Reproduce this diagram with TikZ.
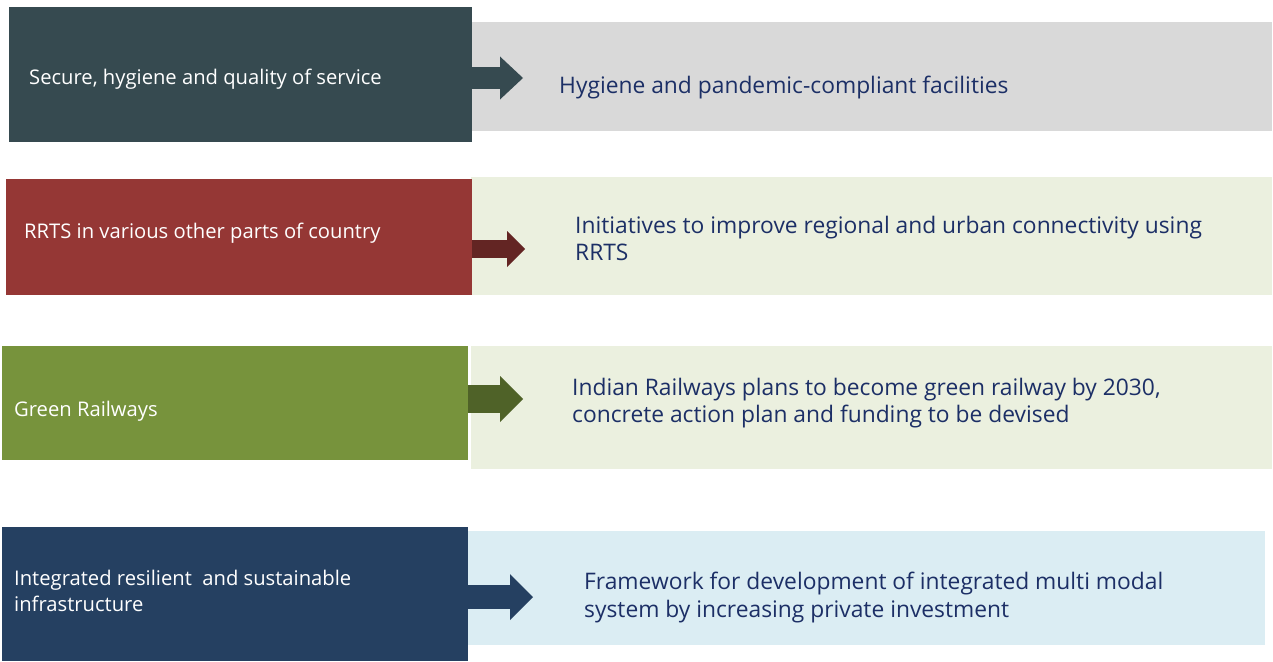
\documentclass[tikz,border=0pt]{standalone}
\usepackage{fontspec}
\setmainfont{Open Sans}
\usetikzlibrary{arrows.meta}
\usetikzlibrary{calc}

\definecolor{slateBox}{HTML}{364A50}
\definecolor{greyBox}{HTML}{D9D9D9}
\definecolor{redBox}{HTML}{953735}
\definecolor{redArrow}{HTML}{632523}
\definecolor{paleGreen}{HTML}{EBF0DF}
\definecolor{oliveBox}{HTML}{77933C}
\definecolor{oliveArrow}{HTML}{4F6228}
\definecolor{navyBox}{HTML}{254061}
\definecolor{paleBlue}{HTML}{DBEDF3}
\definecolor{navyText}{HTML}{1C2F66}

\tikzset{
  box/.style={rectangle, draw=none, inner sep=0pt, anchor=north west},
  lefttext/.style={anchor=west, inner sep=0pt, align=left, text=white,
    font=\fontsize{20.2}{26}\selectfont},
  righttext/.style={anchor=west, inner sep=0pt, align=left, text=navyText,
    font=\fontsize{22.8}{27.5}\selectfont},
}

\begin{document}
\begin{tikzpicture}[x=1pt,y=-1pt]
\useasboundingbox[fill=white] (0,0) rectangle (1273,661);

%%%%%%%%%%%%%%%%%%%%%%%%%%%%%%%%%%%%%%%%%%%%%%%%%%%%%%%%%%%%%% row-1
\node[box, fill=greyBox, minimum width=801pt, minimum height=109pt] (hygR) at (471,22) {};
\node[box, fill=slateBox, minimum width=463pt, minimum height=135pt] (hygL) at (9,7) {};
\coordinate (hygA) at (523,78);
\draw[slateBox, line width=22pt, -{Triangle[length=23pt,width=43pt,line width=0pt]}]
  (hygL.east |- hygA) -- (hygA);
\node[lefttext] (hygLt) at ($(hygL.west)+(20,4)$) {Secure, hygiene and quality of service};
\node[righttext] (hygRt) at (559,88) {Hygiene and pandemic-compliant facilities};

%%%%%%%%%%%%%%%%%%%%%%%%%%%%%%%%%%%%%%%%%%%%%%%%%%%%%%%%%%%%%% row-2
\node[box, fill=paleGreen, minimum width=801pt, minimum height=118pt] (rrtsR) at (471,177) {};
\node[box, fill=redBox, minimum width=466pt, minimum height=116pt] (rrtsL) at (6,179) {};
\coordinate (rrtsA) at (525,249);
\draw[redArrow, line width=18pt, -{Triangle[length=18pt,width=36pt,line width=0pt]}]
  (rrtsL.east |- rrtsA) -- (rrtsA);
\node[lefttext] (rrtsLt) at ($(rrtsL.west)+(18,-4)$) {RRTS in various other parts of country};
\node[righttext] (rrtsRt) at (575,238.5) {Initiatives to improve regional and urban connectivity using\\RRTS};

%%%%%%%%%%%%%%%%%%%%%%%%%%%%%%%%%%%%%%%%%%%%%%%%%%%%%%%%%%%%%% row-3
\node[box, fill=paleGreen, minimum width=801pt, minimum height=123pt] (greenR) at (471,346) {};
\node[box, fill=oliveBox, minimum width=466pt, minimum height=114pt] (greenL) at (2,346) {};
\coordinate (greenA) at (523,399);
\draw[oliveArrow, line width=28pt, -{Triangle[length=23pt,width=46pt,line width=0pt]}]
  (greenL.east |- greenA) -- (greenA);
\node[lefttext] (greenLt) at ($(greenL.west)+(12,8)$) {Green Railways};
\node[righttext] (greenRt) at (572,403) {Indian Railways plans to become green railway by 2030,\\concrete action plan and funding to be devised};

%%%%%%%%%%%%%%%%%%%%%%%%%%%%%%%%%%%%%%%%%%%%%%%%%%%%%%%%%%%%%% row-4
\node[box, fill=paleBlue, minimum width=798pt, minimum height=114pt] (infraR) at (467,531) {};
\node[box, fill=navyBox, minimum width=466pt, minimum height=134pt] (infraL) at (2,527) {};
\coordinate (infraA) at (533,597);
\draw[navyBox, line width=24pt, -{Triangle[length=23pt,width=46pt,line width=0pt]}]
  (infraL.east |- infraA) -- (infraA);
\node[lefttext] (infraLt) at ($(infraL.west)+(12,-3)$) {Integrated resilient\ \ and sustainable\\infrastructure};
\node[righttext] (infraRt) at (584,597.5) {Framework for development of integrated multi modal\\system by increasing private investment};

\end{tikzpicture}
\end{document}
